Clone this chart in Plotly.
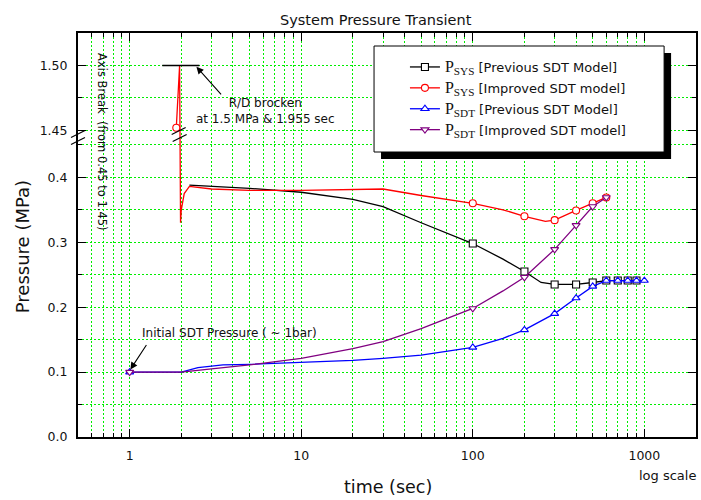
import math
import plotly.graph_objects as go

# ---------------- data ----------------
# P_SYS, previous SDT model (black, squares)
t_sys_prev = [2.23, 3, 5, 10, 20, 30, 50, 100, 150, 200, 250, 300, 400, 500, 600, 700, 800, 900]
p_sys_prev = [0.388, 0.386, 0.383, 0.377, 0.366, 0.355, 0.330, 0.298, 0.274, 0.255, 0.238, 0.235,
              0.235, 0.238, 0.241, 0.241, 0.241, 0.241]
mk_sys_prev = [100, 200, 300, 400, 500, 600, 700, 800, 900]

# P_SYS, improved SDT model (red, circles)
t_sys_imp = [1.87, 1.955, 1.98, 2.0, 2.08, 2.23, 3, 5, 10, 20, 30, 50, 100, 150, 200, 265, 300, 400, 500, 600]
p_sys_imp = [1.452, 1.50, 0.330, 0.350, 0.375, 0.386, 0.382, 0.380, 0.380, 0.381, 0.382, 0.372, 0.360,
             0.350, 0.340, 0.332, 0.334, 0.349, 0.360, 0.369]
mk_sys_imp = [1.87, 100, 200, 300, 400, 500, 600]

# P_SDT, previous SDT model (blue, triangles)
t_sdt_prev = [1, 2, 2.5, 3.5, 5, 10, 20, 30, 50, 100, 150, 200, 300, 400, 500, 600, 700, 800, 900, 1000]
p_sdt_prev = [0.100, 0.100, 0.107, 0.111, 0.112, 0.115, 0.118, 0.121, 0.126, 0.138, 0.152, 0.165,
              0.190, 0.214, 0.232, 0.241, 0.241, 0.241, 0.241, 0.241]
mk_sdt_prev = [1, 100, 200, 300, 400, 500, 600, 700, 800, 900, 1000]

# P_SDT, improved SDT model (purple, inverted triangles)
t_sdt_imp = [1, 2, 3, 5, 10, 20, 30, 50, 100, 150, 200, 300, 400, 500, 600]
p_sdt_imp = [0.100, 0.100, 0.105, 0.111, 0.121, 0.136, 0.147, 0.167, 0.198, 0.225, 0.246, 0.289,
             0.326, 0.355, 0.369]
mk_sdt_imp = [1, 100, 200, 300, 400, 500, 600]

# R/D rupture level marker
rd_marker_t = [1.55, 2.55]
rd_marker_p = [1.50, 1.50]

# axis ticks
x_ticks = [1, 10, 100, 1000]
x_minor = [0.6, 0.7, 0.8, 0.9] + [d * m for m in (1, 10, 100) for d in range(2, 10)] + [2000]
y_ticks = [0.0, 0.1, 0.2, 0.3, 0.4, 1.45, 1.50]
y_ticklabels = ["0.0", "0.1", "0.2", "0.3", "0.4", "1.45", "1.50"]
y_minor = [0.05, 0.15, 0.25, 0.35, 0.45, 1.475]

# ---------------- broken y-axis transform ----------------
LOW_TOP, UP_BOT, GAP, UP_SCALE, UP_TOP = 0.45, 1.45, 0.0223, 2.0, 1.525


def tr(v):
    return v if v <= LOW_TOP else LOW_TOP + GAP + (v - UP_BOT) * UP_SCALE


def trl(vals):
    return [tr(v) for v in vals]


FONT = "DejaVu Sans"
GRID = "#00ee00"
PSPAN = '<span style="font-family:Liberation Serif;font-size:16px">P<sub>{}</sub></span> '

fig = go.Figure()

series = [
    (t_sys_prev, p_sys_prev, mk_sys_prev, "black", "square", PSPAN.format("SYS") + "[Previous SDT Model]"),
    (t_sys_imp, p_sys_imp, mk_sys_imp, "#ff0000", "circle", PSPAN.format("SYS") + "[Improved SDT model]"),
    (t_sdt_prev, p_sdt_prev, mk_sdt_prev, "#0000ff", "triangle-up", PSPAN.format("SDT") + "[Previous SDT Model]"),
    (t_sdt_imp, p_sdt_imp, mk_sdt_imp, "#800080", "triangle-down", PSPAN.format("SDT") + "[Improved SDT model]"),
]

for i, (t, p, mk, col, sym, name) in enumerate(series):
    fig.add_trace(go.Scatter(x=t, y=trl(p), mode="lines", line=dict(color=col, width=1.3),
                             showlegend=False, hoverinfo="skip"))
    lookup = dict(zip(t, p))
    fig.add_trace(go.Scatter(x=mk, y=trl([lookup[m] for m in mk]), mode="markers",
                             marker=dict(symbol=sym, size=7, color="white",
                                         line=dict(color=col, width=1.1)),
                             showlegend=False))
    fig.add_trace(go.Scatter(x=[None], y=[None], mode="lines+markers", name=name,
                             legendgroup=f"g{i}",
                             line=dict(color=col, width=1.3),
                             marker=dict(symbol=sym, size=7, color="white",
                                         line=dict(color=col, width=1.1))))

fig.add_trace(go.Scatter(x=rd_marker_t, y=trl(rd_marker_p), mode="lines",
                         line=dict(color="black", width=1.5), showlegend=False))

# pixel helpers for decorations (plot area 78..698 x 33..437)
L, R, T, B = 78, 698, 33, 437


def px(xp):
    return (xp - L) / (R - L)


def py(yp):
    return (B - yp) / (B - T)


shapes = []
# legend shadow and box
shapes.append(dict(type="rect", xref="paper", yref="paper", x0=px(382), x1=px(673), y0=py(159), y1=py(53),
                   fillcolor="black", line=dict(width=0), layer="above"))
shapes.append(dict(type="rect", xref="paper", yref="paper", x0=px(375), x1=px(666), y0=py(152), y1=py(46),
                   fillcolor="white", line=dict(color="black", width=1), layer="above"))
# axis-break marks on left axis and on the red spike
for (cx, cy) in [(78, 134), (78, 141), (179, 131), (180, 138)]:
    shapes.append(dict(type="line", xref="paper", yref="paper", x0=px(cx - 7), y0=py(cy + 3.5),
                       x1=px(cx + 7), y1=py(cy - 3.5), line=dict(color="black", width=1.2), layer="above"))

fig.update_layout(shapes=shapes)

ann = []
ann.append(dict(text="System Pressure Transient", xref="paper", yref="paper", x=px(377), y=py(20),
                showarrow=False, font=dict(family=FONT, size=14.5, color="#111"), xanchor="center", yanchor="middle"))
ann.append(dict(text="time (sec)", xref="paper", yref="paper", x=px(389), y=py(487),
                showarrow=False, font=dict(family=FONT, size=17.5, color="#111"), xanchor="center", yanchor="middle"))
ann.append(dict(text="Pressure (MPa)", xref="paper", yref="paper", x=px(22), y=py(247),
                showarrow=False, textangle=-90, font=dict(family=FONT, size=18, color="#111"),
                xanchor="center", yanchor="middle"))
ann.append(dict(text="log scale", xref="paper", yref="paper", x=px(669), y=py(475),
                showarrow=False, font=dict(family=FONT, size=13, color="#111"), xanchor="center", yanchor="middle"))
ann.append(dict(text="Axis Break  (from 0.45 to 1.45)", xref="paper", yref="paper", x=px(102), y=py(142),
                showarrow=False, textangle=90, font=dict(family=FONT, size=11.5, color="#111"),
                xanchor="center", yanchor="middle"))
ann.append(dict(text="R/D brocken<br>at 1.5 MPa &amp; 1.955 sec", xref="paper", yref="paper", x=px(266), y=py(111),
                showarrow=False, font=dict(family=FONT, size=12, color="#111"), xanchor="center", yanchor="middle",
                align="center"))
ann.append(dict(text="Initial SDT Pressure ( ~ 1bar)", xref="paper", yref="paper", x=px(140), y=py(333),
                showarrow=False, font=dict(family=FONT, size=12, color="#111"), xanchor="left", yanchor="middle"))
# arrows
ann.append(dict(text="", x=math.log10(2.45), y=tr(1.5) - 0.002, xref="x", yref="y", ax=26, ay=29,
                showarrow=True, arrowhead=2, arrowsize=1.3, arrowwidth=1.1, arrowcolor="black", standoff=0))
ann.append(dict(text="", x=math.log10(1.01), y=tr(0.1) + 0.004, xref="x", yref="y", ax=17, ay=-26,
                showarrow=True, arrowhead=2, arrowsize=1.3, arrowwidth=1.1, arrowcolor="black", standoff=0))
fig.update_layout(annotations=ann)

axis_common = dict(showline=True, linecolor="black", linewidth=2, mirror="ticks",
                   ticks="inside", ticklen=8, tickwidth=1.3, tickcolor="black",
                   showgrid=True, gridcolor=GRID, gridwidth=1, griddash="2px,2px",
                   zeroline=False, tickfont=dict(family=FONT, size=12.5, color="#111"))

fig.update_xaxes(type="log", range=[math.log10(0.5), math.log10(2000)],
                 tickvals=x_ticks, ticktext=[str(v) for v in x_ticks], ticklabelstandoff=6,
                 minor=dict(tickvals=x_minor, ticks="inside", ticklen=4, tickwidth=1.1, tickcolor="black",
                            showgrid=True, gridcolor=GRID, gridwidth=1, griddash="2px,2px"),
                 **axis_common)
fig.update_yaxes(range=[0, tr(UP_TOP)], tickvals=trl(y_ticks), ticktext=y_ticklabels, ticklabelstandoff=6,
                 minor=dict(tickvals=trl(y_minor), ticks="inside", ticklen=4, tickwidth=1.1, tickcolor="black",
                            showgrid=True, gridcolor=GRID, gridwidth=1, griddash="2px,2px"),
                 **axis_common)

fig.update_layout(
    width=701, height=500,
    margin=dict(l=L, r=701 - R, t=T, b=500 - B),
    paper_bgcolor="white", plot_bgcolor="white",
    showlegend=True,
    legend=dict(x=px(406), y=py(52), xanchor="left", yanchor="top",
                bgcolor="rgba(0,0,0,0)", borderwidth=0, traceorder="grouped", tracegroupgap=1,
                font=dict(family=FONT, size=13, color="#111")),
)

fig.write_html("out.html")
